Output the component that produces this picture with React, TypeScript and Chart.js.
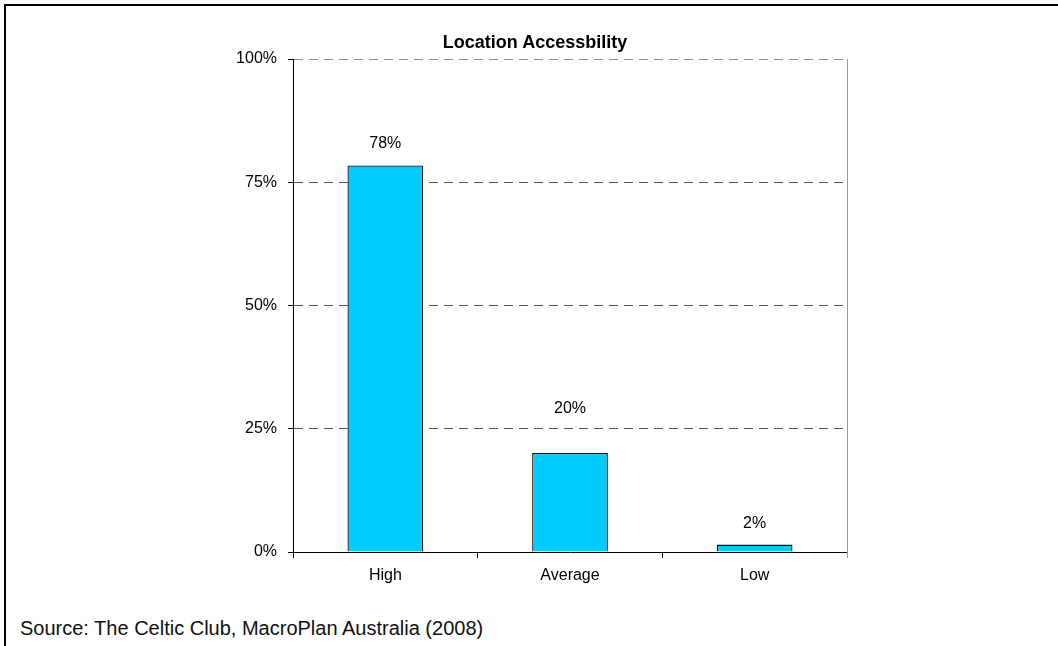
import React, { useEffect, useRef } from "react";
import { Chart, registerables } from "chart.js";

Chart.register(...registerables);

const categories = ["High", "Average", "Low"];
const shares = [78.4, 20.1, 1.5];
const yTicks = [0, 25, 50, 75, 100];
const chartTitle = "Location Accessbility";
const sourceNote = "Source: The Celtic Club, MacroPlan Australia (2008)";

const FONT = "'Liberation Sans', Arial, Helvetica, sans-serif";
// gap in px between each bar top and its value label (label placement style)
const labelGaps = [14, 36, 13];

const valueLabels = {
  id: "valueLabels",
  afterDatasetsDraw(chart: any) {
    const ctx = chart.ctx;
    const meta = chart.getDatasetMeta(0);
    ctx.save();
    ctx.fillStyle = "#000";
    ctx.font = `16px ${FONT}`;
    ctx.textAlign = "center";
    ctx.textBaseline = "bottom";
    meta.data.forEach((bar: any, i: number) => {
      ctx.fillText(Math.round(shares[i]) + "%", bar.x, bar.y - labelGaps[i]);
    });
    ctx.restore();
  },
};

const rightFrame = {
  id: "rightFrame",
  afterDraw(chart: any) {
    const { ctx, chartArea } = chart;
    ctx.save();
    ctx.strokeStyle = "#9a9a9a";
    ctx.lineWidth = 1;
    ctx.beginPath();
    ctx.moveTo(Math.round(chartArea.right) + 0.5, chartArea.top);
    ctx.lineTo(Math.round(chartArea.right) + 0.5, chartArea.bottom + 6);
    ctx.stroke();
    ctx.restore();
  },
};

export default function App() {
  const ref = useRef<HTMLCanvasElement>(null);

  useEffect(() => {
    if (!ref.current) return;
    const chart = new Chart(ref.current, {
      type: "bar",
      data: {
        labels: categories,
        datasets: [
          {
            data: shares,
            backgroundColor: "#00CCFF",
            borderColor: "#111",
            borderWidth: 1.3,
            categoryPercentage: 1,
            barPercentage: 0.41,
          },
        ],
      },
      options: {
        animation: false,
        responsive: false,
        devicePixelRatio: 1,
        layout: { padding: { left: 0, top: 59, right: 211, bottom: 8 } },
        plugins: {
          legend: { display: false },
          title: { display: false },
          tooltip: { enabled: false },
        },
        scales: {
          x: {
            afterFit: (s: any) => {
              s.height = 40;
            },
            grid: {
              offset: true,
              drawOnChartArea: false,
              drawTicks: true,
              tickLength: 6,
              tickColor: "#000",
            },
            border: { display: true, color: "#000", width: 1 },
            ticks: {
              color: "#000",
              font: { family: FONT, size: 16 },
              padding: 8,
            },
          },
          y: {
            min: 0,
            max: 100,
            afterFit: (s: any) => {
              s.width = 293;
            },
            afterBuildTicks: (s: any) => {
              s.ticks = yTicks.map((v) => ({ value: v }));
            },
            grid: {
              color: (c: any) =>
                c.tick && c.tick.value === 0
                  ? "rgba(0,0,0,0)"
                  : c.tick && c.tick.value === 100
                  ? "#8a8a8a"
                  : "#555",
              tickColor: "#000",
              tickLength: 5,
              lineWidth: 1,
            },
            border: { display: true, color: "#000", width: 1, dash: [9, 6] },
            ticks: {
              color: "#000",
              font: { family: FONT, size: 16 },
              padding: 11,
              callback: (v: any) => v + "%",
            },
          },
        },
      },
      plugins: [valueLabels, rightFrame],
    });
    return () => chart.destroy();
  }, []);

  return (
    <div
      style={{
        position: "absolute",
        left: 0,
        top: 0,
        width: 1058,
        height: 646,
        overflow: "hidden",
        background: "#fff",
        fontFamily: FONT,
      }}
    >
      <div
        style={{
          position: "absolute",
          left: 4,
          top: 4,
          width: 1100,
          height: 700,
          borderTop: "2px solid #000",
          borderLeft: "2px solid #000",
        }}
      />
      <canvas
        ref={ref}
        width={1058}
        height={600}
        style={{ position: "absolute", left: 0, top: 0, width: 1058, height: 600 }}
      />
      <div
        style={{
          position: "absolute",
          left: 0,
          width: 1070,
          top: 31,
          textAlign: "center",
          fontWeight: "bold",
          fontSize: 18,
          lineHeight: "22px",
          color: "#000",
        }}
      >
        {chartTitle}
      </div>
      <div
        style={{
          position: "absolute",
          left: 20,
          top: 615,
          fontSize: 20,
          lineHeight: "26px",
          color: "#111",
          whiteSpace: "nowrap",
        }}
      >
        {sourceNote}
      </div>
    </div>
  );
}
